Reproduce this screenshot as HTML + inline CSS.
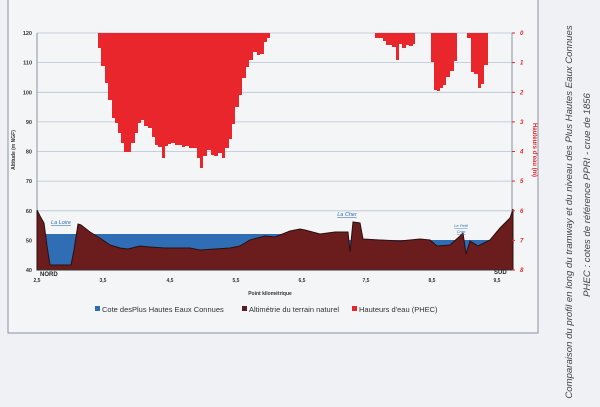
<!DOCTYPE html>
<html><head><meta charset="utf-8"><style>
body{margin:0;width:600px;height:407px;background:#eff1f4;overflow:hidden}
svg{display:block}
</style></head><body>
<svg width="600" height="407" viewBox="0 0 600 407" xmlns="http://www.w3.org/2000/svg" font-family="Liberation Sans, sans-serif">
<rect width="600" height="407" fill="#eff1f4"/>
<rect x="8" y="-2" width="530" height="335" fill="#f4f5f7" stroke="#8a93a0" stroke-width="1"/>
<g stroke="#b7c3d3" stroke-width="0.8">
<line x1="37" y1="33" x2="512" y2="33"/><line x1="37" y1="62.6" x2="512" y2="62.6"/><line x1="37" y1="92.3" x2="512" y2="92.3"/><line x1="37" y1="121.9" x2="512" y2="121.9"/><line x1="37" y1="151.5" x2="512" y2="151.5"/><line x1="37" y1="181.1" x2="512" y2="181.1"/><line x1="37" y1="210.8" x2="512" y2="210.8"/><line x1="37" y1="240.4" x2="512" y2="240.4"/>
</g>
<line x1="37" y1="33" x2="37" y2="270" stroke="#8a93a0"/>
<line x1="512" y1="33" x2="512" y2="270" stroke="#8a93a0"/>
<path fill="#e8262b" d="M98,33 L98,48 101,48 101,66 105,66 105,83 108,83 108,100 112,100 112,118 115,118 115,123 118,123 118,133 121,133 121,143 124,143 124,152 131,152 131,143 135,143 135,133 138,133 138,123 141,123 141,120 144,120 144,126 148,126 148,128 152,128 152,137 155,137 155,145 158,145 158,147 162,147 162,158 165,158 165,146 168,146 168,144 171,144 171,143 175,143 175,145 182,145 182,147 185,147 185,146 189,146 189,148 197,148 197,158 200,158 200,168 203,168 203,156 207,156 207,150 211,150 211,155 214,155 214,156 218,156 218,153 222,153 222,158 225,158 225,148 229,148 229,139 232,139 232,124 235,124 235,107 239,107 239,95 242,95 242,78 246,78 246,67 249,67 249,60 253,60 253,52 257,52 257,55 260,55 260,54 264,54 264,42 267,42 267,38 270,38 270,33Z"/>
<path fill="#e8262b" d="M375,33 L375,38 383,38 383,41 386,41 386,45 392,45 392,47 396,47 396,60 399,60 399,44 402,44 402,48 406,48 406,45 409,45 409,46 413,46 413,44 415,44 415,33Z"/>
<path fill="#e8262b" d="M431,33 L431,62 434,62 434,90 437,90 437,91 440,91 440,88 443,88 443,85 446,85 446,77 450,77 450,71 454,71 454,61 457,61 457,33Z"/>
<path fill="#e8262b" d="M467,33 L467,38 471,38 471,72 474,72 474,74 478,74 478,88 481,88 481,84 484,84 484,65 488,65 488,33Z"/>
<path fill="#2f6db5" d="M45,234 L300,234 300,270 45,270Z M345,240 L508,240 508,270 345,270Z"/>
<path fill="#6b1c1c" stroke="#2a1010" stroke-width="1" d="M37,210 L40,216 44,223 47,246 50,265 71,265 74,250 78,224 81,225 90,232 100,238 110,245 120,248 128,249 140,246 150,247 165,248 190,248 200,250 230,248 240,246 250,240 265,236 275,237 290,231 300,229 305,230 320,234 335,232 348,232 350,252 353,222 360,223 363,239 380,240 400,241 420,239 430,240 437,246 450,245 460,236 463,233 466,254 470,241 478,246 490,240 500,228 510,218 513,209 513,270 37,270Z"/>
<line x1="37" y1="270" x2="512" y2="270" stroke="#333" stroke-width="1"/>
<g font-size="5.5" font-weight="bold" fill="#333" text-anchor="end">
<text x="32" y="35">120</text><text x="32" y="64.6">110</text><text x="32" y="94.3">100</text><text x="32" y="123.9">90</text><text x="32" y="153.5">80</text><text x="32" y="183.1">70</text><text x="32" y="212.8">60</text><text x="32" y="242.4">50</text><text x="32" y="272">40</text>
</g>
<g font-size="6" font-style="italic" font-weight="bold" fill="#e8262b">
<text x="520" y="35">0</text><text x="520" y="64.6">1</text><text x="520" y="94.3">2</text><text x="520" y="123.9">3</text><text x="520" y="153.5">4</text><text x="520" y="183.1">5</text><text x="520" y="212.8">6</text><text x="520" y="242.4">7</text><text x="520" y="272">8</text>
</g>
<g stroke="#e8262b" stroke-width="1"><line x1="512" y1="33" x2="515" y2="33"/><line x1="512" y1="62.6" x2="515" y2="62.6"/><line x1="512" y1="92.3" x2="515" y2="92.3"/><line x1="512" y1="121.9" x2="515" y2="121.9"/><line x1="512" y1="151.5" x2="515" y2="151.5"/><line x1="512" y1="181.1" x2="515" y2="181.1"/><line x1="512" y1="210.8" x2="515" y2="210.8"/><line x1="512" y1="240.4" x2="515" y2="240.4"/><line x1="512" y1="270" x2="515" y2="270"/></g>
<text transform="translate(15,150) rotate(-90)" font-size="5" font-weight="bold" fill="#333" text-anchor="middle">Altitude (m NGF)</text>
<text transform="translate(533,150) rotate(90)" font-size="6" font-weight="bold" fill="#e8262b" text-anchor="middle">Hauteurs d'eau (m)</text>
<g font-size="5" font-weight="bold" fill="#333" text-anchor="middle">
<text x="37" y="282">2,5</text><text x="103" y="282">3,5</text><text x="170" y="282">4,5</text><text x="236" y="282">5,5</text><text x="302" y="282">6,5</text><text x="366" y="282">7,5</text><text x="432" y="282">8,5</text><text x="497" y="282">9,5</text>
<text x="270" y="295">Point kilométrique</text>
</g>
<text x="40" y="276" font-size="6" font-weight="bold" fill="#222">NORD</text>
<text x="494" y="274" font-size="6" font-weight="bold" fill="#222">SUD</text>
<g font-size="5.5" font-style="italic" fill="#2f6db5" text-decoration="underline" text-anchor="middle">
<text x="61" y="224">La Loire</text><text x="347" y="216">La Cher</text><text x="461" y="227" font-size="4">Le Petit</text><text x="461" y="233" font-size="4">Cher</text>
</g>
<g font-size="7.5" fill="#333">
<rect x="95" y="306" width="5" height="5" fill="#2f6db5"/><text x="102" y="312">Cote desPlus Hautes Eaux Connues</text>
<rect x="242" y="306" width="5" height="5" fill="#5a1e1e"/><text x="249" y="312">Altimétrie du terrain naturel</text>
<rect x="352" y="306" width="5" height="5" fill="#e8262b"/><text x="359" y="312">Hauteurs d'eau (PHEC)</text>
</g>
<g font-size="9.6" font-style="italic" fill="#444" text-anchor="middle">
<text transform="translate(572,212) rotate(-90)">Comparaison du profil en long du tramway et du niveau des Plus Hautes Eaux Connues</text>
<text transform="translate(590,195) rotate(-90)">PHEC : cotes de référence PPRI - crue de 1856</text>
</g>
</svg>
</body></html>
